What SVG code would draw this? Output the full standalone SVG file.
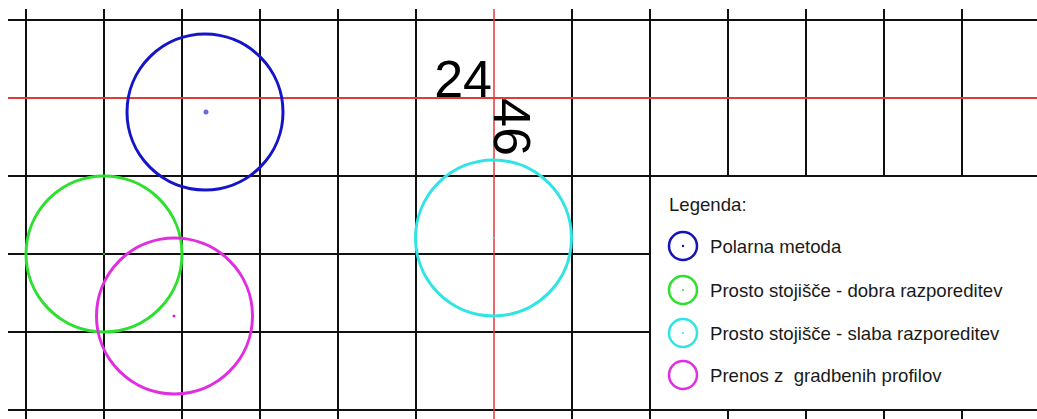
<svg xmlns="http://www.w3.org/2000/svg" width="1037" height="419" viewBox="0 0 1037 419">
<style>
.g{stroke:#111;stroke-width:2;fill:none}
.r{stroke:#e03a3a;fill:none}
.c{fill:none;stroke-width:3}
.lc{fill:none;stroke-width:2.5}
.t{font-family:"Liberation Sans",Arial,sans-serif;font-size:18.6px;fill:#1a1a1a}
.big{font-family:"Liberation Sans",Arial,sans-serif;font-size:52px;fill:#000}
</style>
<rect width="1037" height="419" fill="#fff"/>
<g id="grid">
<path class="g" d="M8 20H1037M8 176H1037M8 254H650M8 332H650M8 410H1037"/>
<path class="g" d="M26 9V419M104 9V419M182 9V419M260 9V419M338 9V419M416 9V419M572 9V419M650 9V419M728 9V176M806 9V176M884 9V176M962 9V176M728 410V419M806 410V419M884 410V419M962 410V419"/>
<path class="r" stroke-width="2" d="M8 98H1037"/>
<path class="r" stroke-width="1.5" d="M494 9V419"/>
</g>
<g id="labels">
<text class="big" x="492" y="97" text-anchor="end">24</text>
<text class="big" transform="translate(494,98) rotate(90)" x="0" y="0">46</text>
</g>
<g id="circle-blue">
<circle class="c" cx="205" cy="112" r="78" stroke="#1414c8"/>
<circle cx="206" cy="112" r="2.5" fill="#6a6ae0"/>
</g>
<g id="circle-green">
<circle class="c" cx="104" cy="254" r="78" stroke="#2ee02e"/>
<circle cx="104" cy="254" r="1" fill="#2ee02e"/>
</g>
<g id="circle-magenta">
<circle class="c" cx="174.5" cy="316" r="78" stroke="#e02ee0"/>
<circle cx="174" cy="316" r="1.5" fill="#d020d0"/>
</g>
<g id="circle-cyan">
<circle class="c" cx="493.5" cy="238" r="78" stroke="#2ee4e4"/>
<circle cx="493.5" cy="238" r="1" fill="#2ee4e4"/>
</g>
<g id="legend">
<rect x="650" y="176" width="400" height="234" fill="#fff" stroke="#111" stroke-width="2"/>
<text class="t" x="669" y="211">Legenda:</text>
<circle class="lc" cx="683" cy="246" r="14" stroke="#1414b4"/>
<circle cx="683" cy="246" r="1.2" fill="#1414b4"/>
<text class="t" x="710" y="253">Polarna metoda</text>
<circle class="lc" cx="683" cy="290" r="14" stroke="#2ee02e"/>
<circle cx="683" cy="290" r="1" fill="#2ee02e"/>
<text class="t" x="710" y="297">Prosto stojišče - dobra razporeditev</text>
<circle class="lc" cx="683" cy="333" r="14" stroke="#2ee4e4"/>
<circle cx="683" cy="333" r="1" fill="#2ee4e4"/>
<text class="t" x="710" y="340">Prosto stojišče - slaba razporeditev</text>
<circle class="lc" cx="683" cy="375" r="14" stroke="#e02ee0"/>
<text class="t" x="710" y="382" xml:space="preserve">Prenos z  gradbenih profilov</text>
</g>
</svg>
